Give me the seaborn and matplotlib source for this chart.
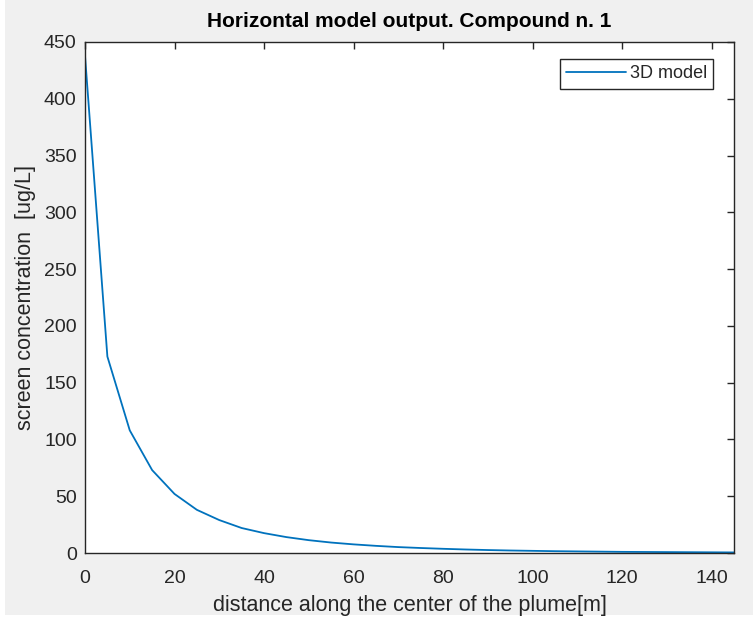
import matplotlib
matplotlib.use("Agg")
import matplotlib.pyplot as plt
from matplotlib.patches import Rectangle
import pandas as pd
import seaborn as sns

# ---------------------------------------------------------------------------
# Data (distance in m, concentration in ug/L)
# ---------------------------------------------------------------------------
distance_m = [0, 5, 10, 15, 20, 25, 30, 35, 40, 45, 50, 55, 60, 65, 70,
              75, 80, 85, 90, 95, 100, 105, 110, 115, 120, 125, 130, 135, 140, 145]
concentration = [438, 173, 108, 73, 52, 38, 29, 22, 17.5, 14, 11.3, 9.2, 7.6, 6.3, 5.2,
                 4.4, 3.7, 3.1, 2.6, 2.2, 1.9, 1.6, 1.4, 1.2, 1.0, 0.9, 0.8, 0.7, 0.6, 0.5]
series_name = "3D model"
x_ticks = [0, 20, 40, 60, 80, 100, 120, 140]
y_ticks = [0, 50, 100, 150, 200, 250, 300, 350, 400, 450]

df = pd.DataFrame({"distance": distance_m, "conc": concentration, "model": series_name})

sns.set_style("white")
plt.rcParams["font.family"] = ["Liberation Sans", "DejaVu Sans"]

W, H = 753, 618
fig = plt.figure(figsize=(W / 100, H / 100), dpi=100, facecolor="white")
# grey MATLAB-like window area (thin white strip left/bottom as in the screenshot)
fig.patches.append(Rectangle((5 / W, 3 / H), 1, 1, transform=fig.transFigure,
                             facecolor="#f0f0f0", edgecolor="none", zorder=-10))

ax = fig.add_axes([85 / W, (H - 553) / H, (734 - 85) / W, (553 - 42) / H])
ax.set_facecolor("white")

sns.lineplot(data=df, x="distance", y="conc", hue="model", palette=["#0072BD"],
             linewidth=1.3, ax=ax)

ax.set_xlim(0, 145)
ax.set_ylim(0, 450)
ax.set_xticks(x_ticks)
ax.set_yticks(y_ticks)
ax.tick_params(direction="in", length=5, width=1, colors="#262626", labelsize=14,
               top=True, right=True, labeltop=False, labelright=False)
ax.tick_params(axis="x", pad=12)
ax.tick_params(axis="y", pad=6)
for side in ax.spines.values():
    side.set_color("#262626")
    side.set_linewidth(1)

ax.set_title("Horizontal model output. Compound n. 1", fontsize=15,
             fontweight="bold", color="black", pad=11)
ax.set_xlabel("distance along the center of the plume[m]", fontsize=15.5,
              color="#262626", labelpad=6)
ax.set_ylabel("screen concentration  [ug/L]", fontsize=15.5, color="#262626",
              labelpad=6)

leg = ax.legend(loc="upper right", fontsize=13, fancybox=False, framealpha=1,
                edgecolor="#262626", handlelength=3.3, handletextpad=0.2,
                borderpad=0.35, borderaxespad=0, bbox_to_anchor=(0.968, 0.967))
leg.get_frame().set_linewidth(1)

fig.savefig("out.png", dpi=100, facecolor=fig.get_facecolor())
